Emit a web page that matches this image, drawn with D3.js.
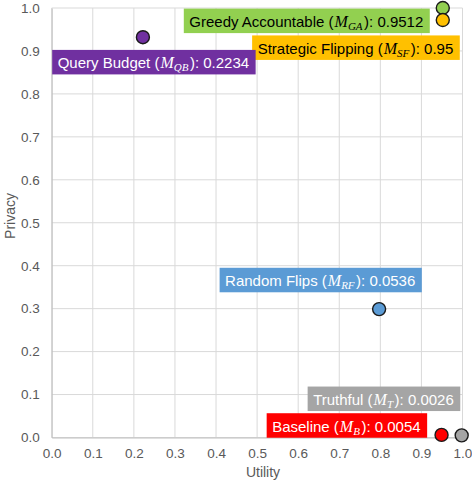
<!DOCTYPE html>
<html><head><meta charset="utf-8">
<script src="https://cdn.jsdelivr.net/npm/d3@7"></script>
<style>body{margin:0;background:#fff}svg{display:block}</style>
</head><body>
<svg id="c" width="472" height="482"></svg>
<script>
// ---- data ----
const names = ["Greedy Accountable", "Strategic Flipping", "Query Budget", "Random Flips", "Truthful", "Baseline"];
const subscripts = ["GA", "SF", "QB", "RF", "T", "B"];
const scores = ["0.9512", "0.95", "0.2234", "0.0536", "0.0026", "0.0054"];
const utility = [0.952, 0.952, 0.222, 0.797, 0.998, 0.949];
const privacy = [1.0, 0.972, 0.932, 0.299, 0.005, 0.006];
const xTickValues = [0, 0.1, 0.2, 0.3, 0.4, 0.5, 0.6, 0.7, 0.8, 0.9, 1.0];
const yTickValues = [0, 0.1, 0.2, 0.3, 0.4, 0.5, 0.6, 0.7, 0.8, 0.9, 1.0];

// ---- style ----
const fills = ["#92D050", "#FFC000", "#7030A0", "#5B9BD5", "#A5A5A5", "#FF0000"];
const textFills = ["#000", "#000", "#fff", "#fff", "#fff", "#fff"];
// label box placement relative to point: anchor side, dx of that side, dy of box top
const labelPlace = [
  {side: "end", dx: -13, dy: 0.6},
  {side: "end", dx: 17, dy: 15.4},
  {side: "start", dx: -90.7, dy: 12.7},
  {side: "end", dx: 42.7, dy: -41.3},
  {side: "end", dx: -1.4, dy: -48.8},
  {side: "end", dx: -14.4, dy: -21.7}
];

const svg = d3.select("#c");
const L = 51.7, R = 462.5, T = 8, B = 437.5;
const x = d3.scaleLinear().domain([0, 1]).range([L, R]);
const y = d3.scaleLinear().domain([0, 1]).range([B, T]);

// grid
const g = svg.append("g");
g.selectAll("line.v").data(xTickValues).join("line")
  .attr("x1", d => x(d)).attr("x2", d => x(d)).attr("y1", T).attr("y2", B)
  .attr("stroke", "#D9D9D9").attr("stroke-width", 1);
g.selectAll("line.h").data(yTickValues).join("line")
  .attr("y1", d => y(d)).attr("y2", d => y(d)).attr("x1", L).attr("x2", R)
  .attr("stroke", "#D9D9D9").attr("stroke-width", 1);

// axes
const xAxis = svg.append("g").attr("transform", `translate(0,${B})`)
  .call(d3.axisBottom(x).tickValues(xTickValues).tickFormat(d3.format(".1f")).tickSize(0).tickPadding(11));
const yAxis = svg.append("g").attr("transform", `translate(${L},0)`)
  .call(d3.axisLeft(y).tickValues(yTickValues).tickFormat(d3.format(".1f")).tickSize(0).tickPadding(12));
[xAxis, yAxis].forEach(a => {
  a.select(".domain").attr("stroke", "#BFBFBF");
  a.selectAll("text").attr("font-family", "Liberation Sans, Arial, sans-serif")
    .attr("font-size", 13.5).attr("fill", "#595959");
});

svg.append("text").attr("x", 263).attr("y", 477).attr("text-anchor", "middle")
  .attr("font-family", "Liberation Sans, Arial, sans-serif").attr("font-size", 14)
  .attr("fill", "#595959").text("Utility");
svg.append("text").attr("transform", "translate(15,216) rotate(-90)").attr("text-anchor", "middle")
  .attr("font-family", "Liberation Sans, Arial, sans-serif").attr("font-size", 14)
  .attr("fill", "#595959").text("Privacy");

// points
const data = names.map((n, i) => ({n, sub: subscripts[i], s: scores[i], u: utility[i], p: privacy[i], i}));
svg.append("g").selectAll("circle").data(data).join("circle")
  .attr("cx", d => x(d.u)).attr("cy", d => y(d.p)).attr("r", 6.5)
  .attr("fill", d => fills[d.i]).attr("stroke", "#1a1a1a").attr("stroke-width", 1.4);

// labels
const lg = svg.append("g");
data.forEach(d => {
  const grp = lg.append("g");
  const rect = grp.append("rect");
  const t = grp.append("text").attr("font-family", "Liberation Sans, Arial, sans-serif")
    .attr("font-size", 15).attr("fill", textFills[d.i]);
  t.append("tspan").text(d.n + " (");
  t.append("tspan").attr("font-family", "Liberation Serif, serif").attr("font-style", "italic").attr("font-size", 16).attr("dx", 1).text("M");
  t.append("tspan").attr("font-family", "Liberation Serif, serif").attr("font-style", "italic").attr("font-size", 11).attr("dy", 3).text(d.sub);
  t.append("tspan").attr("dy", -3).attr("dx", 1.5).text("): " + d.s);
  const w = t.node().getComputedTextLength() + 2.5;
  const padL = 5.5, padR = 6.5, h = 24.5;
  const bw = w + padL + padR;
  const pl = labelPlace[d.i];
  const px = x(d.u), py = y(d.p);
  const left = pl.side === "start" ? px + pl.dx : px + pl.dx - bw;
  const top = py + pl.dy;
  rect.attr("x", left).attr("y", top).attr("width", bw).attr("height", h).attr("fill", fills[d.i]);
  t.attr("x", left + padL).attr("y", top + 18.5);
});
</script>
</body></html>
